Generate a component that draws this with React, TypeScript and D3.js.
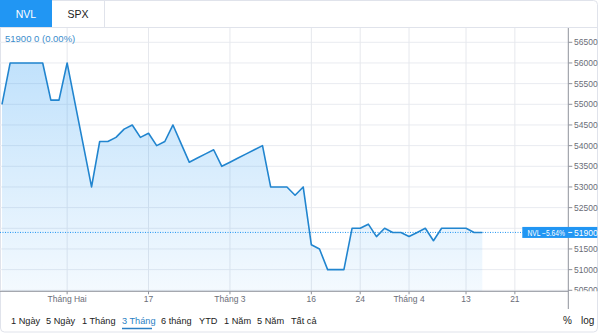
import React from "react";
import * as d3 from "d3";

const prices: number[] = [
  55000, 56000, 56000, 56000, 56000, 56000, 55100, 55100, 56000, 55000,
  54000, 53000, 54100, 54100, 54200, 54400, 54500, 54200, 54300, 54000,
  54100, 54500, 54050, 53600, 53700, 53800, 53900, 53500, 53600, 53700,
  53800, 53900, 54000, 53000, 53000, 53000, 52800, 53000, 51600, 51500,
  51000, 51000, 51000, 52000, 52000, 52100, 51800, 52000, 51900, 51900,
  51800, 51900, 52000, 51700, 52000, 52000, 52000, 52000, 51900, 51900,
];
const xTickIndex: number[] = [8, 18, 28, 38, 44, 50, 57, 63];
const xTickLabels: string[] = ["Tháng Hai", "17", "Tháng 3", "16", "24", "Tháng 4", "13", "21"];
const yTicks: number[] = [50500, 51000, 51500, 52000, 52500, 53000, 53500, 54000, 54500, 55000, 55500, 56000, 56500];
const tabs: string[] = ["NVL", "SPX"];
const ranges: string[] = ["1 Ngày", "5 Ngày", "1 Tháng", "3 Tháng", "6 tháng", "YTD", "1 Năm", "5 Năm", "Tất cả"];
const rangeX: number[] = [11, 46, 82, 122, 161, 199, 224, 257, 291];
const symbol = "NVL";

const W = 600, H = 333;
const plotTop = 28, plotBottom = 291.3, axisX = 568.3;
const FONT = "'Liberation Sans', Arial, sans-serif";
const BLUE = "#2196f3";
const LINE = "#2185cf";

export default function App() {
  const x = d3.scaleLinear().domain([0, prices.length - 1]).range([2, 482.3]);
  const y = d3.scaleLinear().domain([50500, 56500]).range([290.3, 42.3]);
  const last = prices[prices.length - 1];
  const first = prices[0];
  const pct = ((last - first) / first) * 100;
  const line = d3.line<number>().x((_, i) => x(i)).y((d) => y(d));
  const area = d3.area<number>().x((_, i) => x(i)).y0(plotBottom).y1((d) => y(d));
  const visibleTicks = yTicks.filter((v) => Math.abs(y(v) - y(last)) > 9);

  return (
    <svg width={W} height={H} style={{ position: "absolute", left: 0, top: 0, background: "#fff" }} fontFamily={FONT}>
      <defs>
        <linearGradient id="fillG" gradientUnits="userSpaceOnUse" x1={0} x2={0} y1={y(56000)} y2={plotBottom}>
          <stop offset="0" stopColor="#2196f3" stopOpacity={0.28} />
          <stop offset="1" stopColor="#2196f3" stopOpacity={0.05} />
        </linearGradient>
        <clipPath id="plotClip">
          <rect x={0} y={plotTop} width={axisX} height={plotBottom - plotTop} />
        </clipPath>
        <clipPath id="yClip">
          <rect x={axisX} y={plotTop} width={40} height={plotBottom - plotTop} />
        </clipPath>
      </defs>
      {/* outer border */}
      <rect x={0.5} y={0.5} width={597} height={331.5} rx={4} fill="none" stroke="#e0e3eb" />
      {/* header */}
      <line x1={0} x2={598} y1={27.5} y2={27.5} stroke="#e0e3eb" />
      <rect x={0} y={0} width={52} height={27} fill={BLUE} />
      {tabs.map((t, i) => (
        <text key={t} x={26 + i * 52} y={17.5} textAnchor="middle" fontSize={10.5}
          fill={i === 0 ? "#fff" : "#222"}>{t}</text>
      ))}
      <line x1={104.5} x2={104.5} y1={0} y2={27} stroke="#e0e3eb" />

      {/* grid */}
      {yTicks.map((v) => (
        <line key={"h" + v} x1={0} x2={axisX} y1={y(v)} y2={y(v)} stroke="#e9ebf0" />
      ))}
      {xTickIndex.map((i) => (
        <line key={"v" + i} x1={x(i)} x2={x(i)} y1={plotTop} y2={plotBottom} stroke="#e6e8ed" />
      ))}

      {/* series */}
      <g clipPath="url(#plotClip)">
        <path d={area(prices) ?? ""} fill="url(#fillG)" />
        <line x1={0} x2={axisX} y1={y(last)} y2={y(last)} stroke={BLUE} strokeWidth={1} strokeDasharray="1,1.5" />
        <path d={line(prices) ?? ""} fill="none" stroke={LINE} strokeWidth={1.6} strokeLinejoin="round" />
      </g>

      {/* legend */}
      <text x={5} y={42} fontSize={9.5} fill="#3b8dcc">{`${last}  0 (0.00%)`}</text>

      {/* x axis */}
      <line x1={0} x2={axisX} y1={plotBottom} y2={plotBottom} stroke="#8f939c" />
      {xTickIndex.map((i, k) => (
        <g key={"xt" + i}>
          <line x1={x(i)} x2={x(i)} y1={plotBottom} y2={plotBottom + 3} stroke="#8f939c" />
          <text x={x(i)} y={302} textAnchor="middle" fontSize={8.5} fill="#6a6d78">{xTickLabels[k]}</text>
        </g>
      ))}

      {/* y axis */}
      <line x1={axisX} x2={axisX} y1={plotTop} y2={309} stroke="#8f939c" />
      <g clipPath="url(#yClip)">
        {yTicks.map((v) => (
          <line key={"ytl" + v} x1={axisX} x2={axisX + 4} y1={y(v)} y2={y(v)} stroke="#8f939c" />
        ))}
        {visibleTicks.map((v) => (
          <text key={"yt" + v} x={574} y={y(v) + 3} fontSize={8.5} fill="#6a6d78">{v}</text>
        ))}
      </g>

      {/* last price label */}
      <rect x={522.3} y={y(last) - 5.5} width={75} height={11} fill={BLUE} />
      <text x={527.5} y={y(last) + 3.2} fontSize={8.2} fill="#fff" textLength={37.5} lengthAdjust="spacingAndGlyphs">{`${symbol} ${pct.toFixed(2).replace("-", "−")}%`}</text>
      <line x1={axisX} x2={axisX + 4} y1={y(last)} y2={y(last)} stroke="#fff" />
      <text x={574} y={y(last) + 3.2} fontSize={8.5} fill="#fff">{last}</text>

      {/* range selector */}
      {ranges.map((r, i) => (
        <text key={r} x={rangeX[i]} y={324} fontSize={9.2} fill={i === 3 ? "#2a7fc4" : "#222"}>{r}</text>
      ))}
      <line x1={122} x2={152} y1={328.5} y2={328.5} stroke="#2a7fc4" strokeWidth={1.5} />
      <text x={563} y={324} fontSize={10} fill="#222">%</text>
      <text x={581} y={324} fontSize={10} fill="#222">log</text>
    </svg>
  );
}
